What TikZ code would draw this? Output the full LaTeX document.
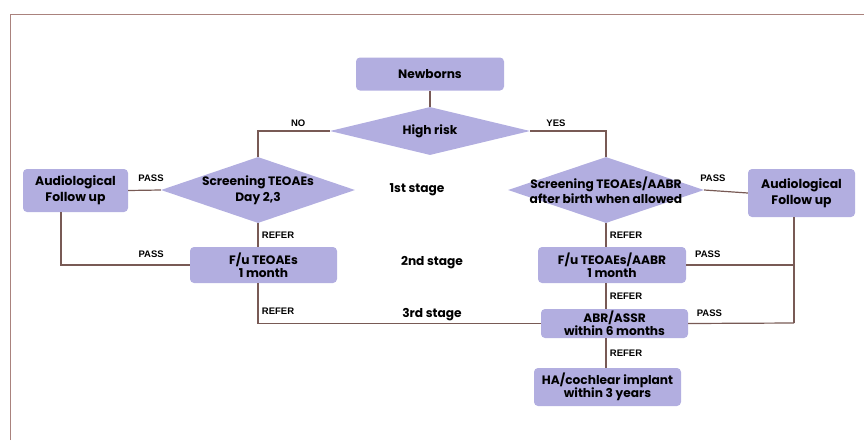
\documentclass[tikz,border=0pt]{standalone}
\usepackage{fontspec}
\setmainfont{Poppins}
\newfontfamily\labelfont{Liberation Sans}
\usetikzlibrary{shapes.geometric}
\definecolor{boxfill}{RGB}{178,174,224}
\definecolor{linecol}{RGB}{120,90,85}
\definecolor{framecol}{RGB}{170,130,125}
\tikzset{%
  mybox/.style={rectangle, rounded corners=4pt, fill=boxfill, inner sep=0pt,
    align=center, font=\bfseries\fontsize{12.2}{13.3}\selectfont},
  mydia/.style={diamond, fill=boxfill, inner sep=0pt},
  mytext/.style={align=center, font=\bfseries\fontsize{12.2}{15.5}\selectfont},
  myline/.style={draw=linecol, line width=1.2pt},
  mylabel/.style={font=\labelfont\bfseries\fontsize{9.5}{11}\selectfont}
}

\begin{document}
\begin{tikzpicture}[x=1pt,y=-1pt]
  \useasboundingbox (0,0) rectangle (864,440);
  \draw[framecol, line width=0.8pt] (10,440) -- (10,14) -- (864,14);
  % first stage
  \node[mybox, minimum width=148pt, minimum height=33pt] (nb) at (430,74) {Newborns};
  \node[mydia, minimum width=200pt, minimum height=48pt] (hr) at (430,131) {};
  \node[mytext] at (hr) {High risk};
  \node[mydia, minimum width=194pt, minimum height=66pt] (s1) at (258,190) {};
  \node[mytext] at (s1) {Screening TEOAEs\\Day 2,3};
  \node[mydia, minimum width=196pt, minimum height=66pt] (s2) at (606,190) {};
  \node[mytext] at (s2) {Screening TEOAEs/AABR\\after birth when allowed};
  \node[mybox, font=\bfseries\fontsize{12.4}{16}\selectfont, minimum width=105pt, minimum height=43pt] (af1) at (75.5,190.5) {Audiological\\Follow up};
  \node[mybox, font=\bfseries\fontsize{12.4}{16}\selectfont, minimum width=107pt, minimum height=48pt] (af2) at (801.5,193) {Audiological\\Follow up};
  % second and third stage
  \node[mybox, minimum width=147pt, minimum height=36pt] (fu1) at (263.5,265) {F/u TEOAEs\\1 month};
  \node[mybox, minimum width=148pt, minimum height=36pt] (fu2) at (612,265) {F/u TEOAEs/AABR\\1 month};
  \node[mybox, minimum width=147pt, minimum height=29pt] (abr) at (614.5,323.5) {ABR/ASSR\\within 6 months};
  \node[mybox, minimum width=147pt, minimum height=38pt] (ha) at (607.5,387) {HA/cochlear implant\\within 3 years};
  \node[mytext] (st1) at (417,190) {1st stage};
  \node[mytext] (st2) at (432,263) {2nd stage};
  \node[mytext] (st3) at (432,315) {3rd stage};
  \coordinate (pj) at (794,323);
  % connectors
  \draw[myline] (nb) -- (hr);
  \draw[myline] (hr.west) -| (s1.north) node[mylabel, above, pos=0.22] {NO};
  \draw[myline] (hr.east) -| (s2.north) node[mylabel, above, pos=0.17] {YES};
  \draw[myline] (af1.east) -- (s1.west) node[mylabel, above=5pt, pos=0.7] {PASS};
  \draw[myline] (s2.east) -- (af2.west) node[mylabel, above=5pt, pos=0.2] {PASS};
  \draw[myline] (s1.south) -- (s1.south |- fu1.north) node[mylabel, right, midway] {REFER};
  \draw[myline] (fu1.west) -| ([xshift=-14.5pt]af1.south) node[mylabel, above=3pt, pos=0.15] {PASS};
  \draw[myline] (s1.south |- fu1.south) |- (abr.west) node[mylabel, right, pos=0.35] {REFER};
  \draw[myline] (s2.south) -- (s2.south |- fu2.north) node[mylabel, right, midway] {REFER};
  \draw[myline] (fu2.east) -- (fu2.east -| pj) node[mylabel, above=3pt, pos=0.2] {PASS};
  \draw[myline] (abr.east) -- (pj) node[mylabel, above=3pt, pos=0.2] {PASS};
  \draw[myline] (pj) -- (pj |- af2.south);
  \draw[myline] (s2.south |- fu2.south) -- (s2.south |- abr.north) node[mylabel, right, midway] {REFER};
  \draw[myline] (s2.south |- abr.south) -- (s2.south |- ha.north) node[mylabel, right, midway] {REFER};
\end{tikzpicture}
\end{document}
